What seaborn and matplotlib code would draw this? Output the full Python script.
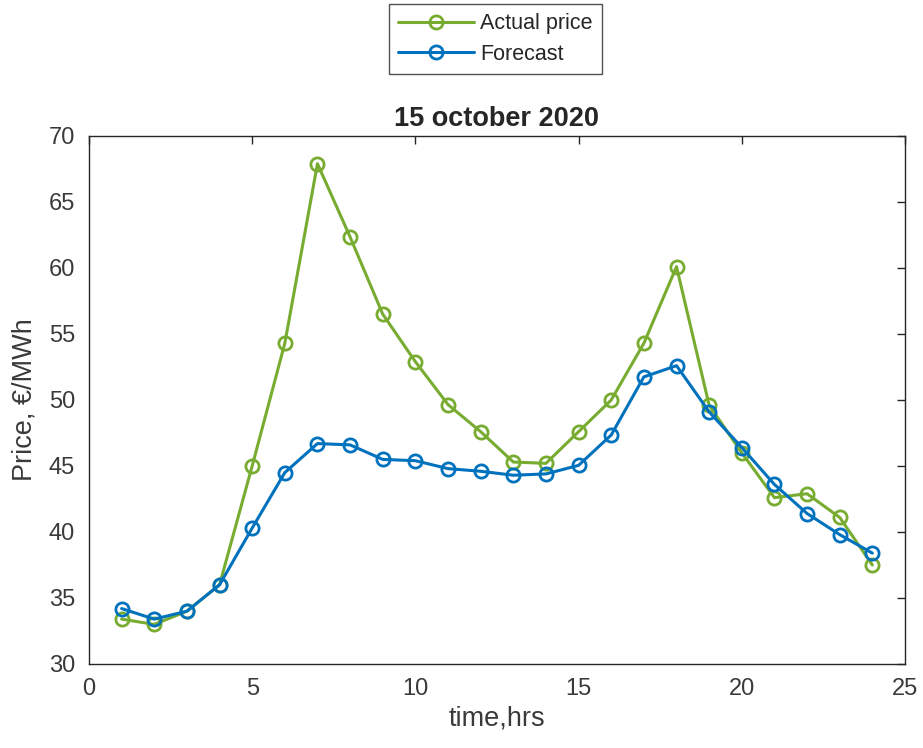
import numpy as np
import pandas as pd
import matplotlib
matplotlib.use("Agg")
import matplotlib.pyplot as plt
import seaborn as sns

# Datos
horas = list(range(1, 25))
precio_real = [33.4, 33.0, 34.0, 36.0, 45.0, 54.3, 67.9, 62.35, 56.5, 52.9, 49.65, 47.6,
               45.3, 45.2, 47.6, 50.0, 54.3, 60.1, 49.6, 46.0, 42.6, 42.9, 41.1, 37.5]
prevision = [34.2, 33.4, 34.0, 36.0, 40.3, 44.5, 46.7, 46.6, 45.5, 45.4, 44.8, 44.6,
             44.3, 44.4, 45.05, 47.35, 51.75, 52.6, 49.1, 46.4, 43.6, 41.4, 39.8, 38.4]
series = ["Actual price", "Forecast"]
colores = {"Actual price": "#77AC30", "Forecast": "#0072BD"}

df = pd.DataFrame({
    "hora": horas * 2,
    "precio": precio_real + prevision,
    "serie": [series[0]] * len(horas) + [series[1]] * len(horas),
})

sns.set_style("white")
plt.rcParams['font.family'] = ['Liberation Sans', 'DejaVu Sans']

fig = plt.figure(figsize=(9.23, 7.48), dpi=100)
ax = fig.add_axes([0.0964, 0.1123, 0.8841, 0.7059])

for s in series:
    d = df[df["serie"] == s]
    sns.lineplot(data=d, x="hora", y="precio", ax=ax, color=colores[s], linewidth=2.2,
                 marker="o", markersize=9.5, markerfacecolor="none", markeredgecolor=colores[s],
                 markeredgewidth=2.0, label=s)

ax.set_xlim(0, 25)
ax.set_ylim(30, 70)
ax.set_xticks([0, 5, 10, 15, 20, 25])
ax.set_yticks(range(30, 71, 5))
ax.tick_params(direction="in", length=6, width=1, colors="#262626", labelsize=17,
               top=True, right=True, labeltop=False, labelright=False, pad=10)
for t in ax.get_xticklabels() + ax.get_yticklabels():
    t.set_color("#3a3a3a")
for sp in ax.spines.values():
    sp.set_color("#262626")
    sp.set_linewidth(1.0)

ax.set_xlabel("time,hrs", fontsize=19.5, color="#3a3a3a", labelpad=4)
ax.set_ylabel("Price, €/MWh", fontsize=19.5, color="#3a3a3a", labelpad=8)
ax.set_title("15 october 2020", fontsize=19.5, fontweight="bold", pad=7)

ax.legend_.remove()
h, l = ax.get_legend_handles_labels()
leg = fig.legend(h, l, loc="upper center", bbox_to_anchor=(0.537, 0.9945), fontsize=15.5,
                 frameon=True, fancybox=False, edgecolor="#262626", handlelength=3.5,
                 borderpad=0.42, labelspacing=0.45, handletextpad=0.3, borderaxespad=0)
leg.get_frame().set_linewidth(1.0)

fig.savefig("out.png", dpi=100, facecolor="white")
